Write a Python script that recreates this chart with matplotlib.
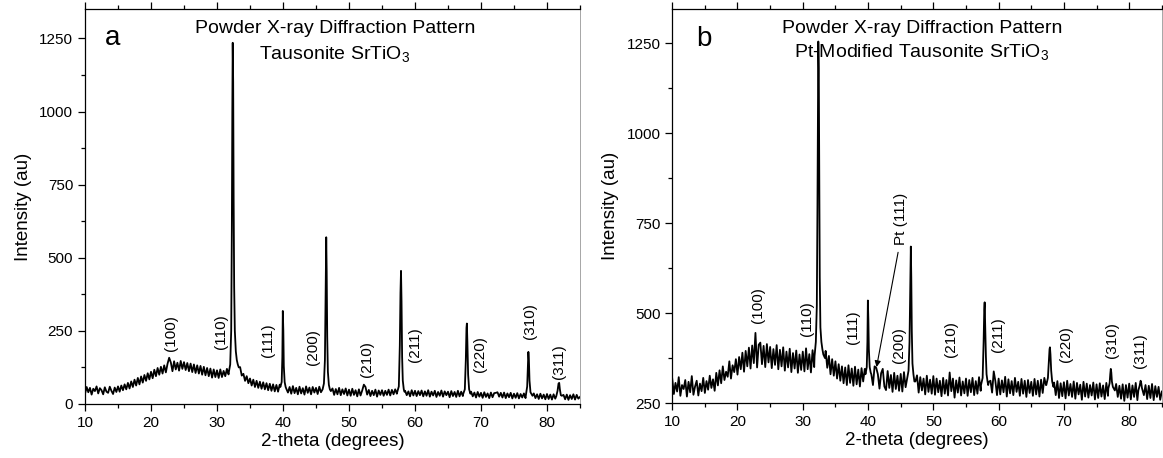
import numpy as np
import matplotlib
matplotlib.use('Agg')
import matplotlib.pyplot as plt
from matplotlib.ticker import MultipleLocator

plt.rcParams['font.family'] = ['Liberation Sans', 'DejaVu Sans']
plt.rcParams['mathtext.fontset'] = 'custom'
plt.rcParams['mathtext.rm'] = 'Liberation Sans'

# background counts read every 0.25 deg from 10 to 85 (panel a)
bg_a = [
    35, 58, 40, 55, 32, 52, 44, 60, 36, 54, 47, 33, 57, 42, 38, 59, 45, 34, 56, 41,
    60, 42, 63, 47, 67, 50, 72, 53, 77, 58, 83, 63, 89, 67, 94, 73, 99, 79, 105, 84,
    110, 88, 117, 95, 123, 100, 127, 104, 132, 108, 137, 158, 142, 112, 146, 118, 141, 114, 147, 120,
    143, 116, 140, 112, 138, 109, 135, 106, 132, 104, 130, 100, 127, 98, 123, 95, 121, 90, 118, 92,
    115, 89, 118, 92, 113, 95, 120, 101, 130, 400, 900, 300, 160, 130, 126, 97, 103, 79, 95, 71,
    87, 63, 83, 58, 79, 55, 76, 52, 74, 50, 71, 47, 69, 45, 67, 43, 65, 42, 66, 47,
    60, 55, 63, 39, 58, 35, 61, 37, 55, 33, 59, 36, 54, 32, 60, 38, 56, 33, 58, 39,
    55, 34, 59, 40, 55, 60, 70, 60, 52, 44, 53, 31, 51, 33, 55, 30, 50, 34, 53, 29,
    49, 28, 52, 31, 47, 26, 50, 29, 46, 66, 58, 32, 48, 27, 45, 30, 49, 25, 46, 31,
    47, 28, 45, 31, 49, 29, 48, 33, 50, 35, 49, 31, 47, 28, 45, 30, 43, 26, 47, 29,
    45, 27, 44, 30, 46, 26, 43, 28, 47, 25, 42, 29, 45, 24, 41, 28, 46, 25, 43, 30,
    42, 23, 44, 27, 41, 24, 45, 26, 42, 27, 43, 25, 40, 23, 42, 26, 39, 22, 41, 25,
    38, 21, 40, 24, 36, 20, 39, 23, 37, 38, 40, 25, 38, 22, 39, 20, 36, 23, 38, 19,
    35, 21, 37, 19, 34, 22, 36, 20, 35, 21, 34, 18, 36, 20, 33, 17, 35, 19, 32, 16,
    34, 17, 32, 15, 33, 18, 35, 20, 32, 28, 31, 16, 32, 14, 30, 17, 33, 15, 31, 18,
    24,
]

# peak profiles (2-theta, counts) for panel a
peaks_a = [
    [(31.8, 110), (32.0, 135), (32.15, 250), (32.25, 600), (32.32, 1000), (32.38, 1235),
     (32.45, 1100), (32.52, 700), (32.6, 400), (32.7, 250), (32.85, 180), (33.0, 150),
     (33.15, 135), (33.3, 125)],
    [(39.6, 58), (39.8, 75), (39.9, 160), (39.97, 318), (40.05, 250), (40.12, 130),
     (40.25, 75), (40.4, 58), (40.5, 52)],
    [(46.0, 50), (46.2, 70), (46.35, 150), (46.45, 350), (46.55, 570), (46.62, 450),
     (46.7, 230), (46.8, 110), (46.95, 65), (47.1, 50)],
    [(57.3, 40), (57.55, 60), (57.7, 200), (57.8, 380), (57.88, 455), (57.96, 350),
     (58.05, 160), (58.15, 80), (58.3, 50), (58.4, 42)],
    [(67.3, 34), (67.55, 50), (67.7, 150), (67.8, 260), (67.86, 275), (67.94, 210),
     (68.05, 100), (68.2, 50), (68.4, 35)],
    [(76.8, 30), (77.0, 60), (77.1, 130), (77.18, 178), (77.26, 150), (77.35, 80),
     (77.5, 40), (77.8, 28)],
    [(81.4, 26), (81.6, 45), (81.75, 70), (81.85, 72), (81.95, 50), (82.1, 30)],
]

# background counts for panel b
bg_b = [
    318, 275, 306, 282, 322, 270, 300, 289, 314, 268, 309, 280, 325, 273, 296, 312, 271, 304, 283, 320,
    278, 311, 287, 326, 292, 316, 284, 334, 299, 341, 305, 352, 314, 337, 323, 366, 318, 355, 336, 372,
    329, 378, 344, 390, 337, 395, 352, 404, 346, 410, 361, 445, 349, 412, 418, 358, 409, 350, 414, 363,
    406, 347, 400, 356, 411, 344, 398, 352, 405, 340, 393, 349, 401, 336, 389, 346, 396, 334, 385, 342,
    393, 338, 402, 344, 386, 335, 397, 350, 380, 400, 500, 420, 390, 372, 395, 348, 381, 330, 372, 326,
    366, 318, 358, 312, 352, 305, 349, 300, 355, 306, 346, 298, 351, 302, 343, 296, 347, 310, 345, 330,
    350, 340, 338, 300, 352, 348, 330, 290, 333, 345, 296, 286, 339, 292, 328, 281, 334, 289, 326, 284,
    331, 282, 336, 294, 325, 340, 360, 340, 330, 310, 327, 279, 322, 285, 318, 274, 326, 281, 315, 276,
    325, 273, 318, 280, 312, 269, 320, 276, 314, 271, 335, 283, 318, 265, 313, 279, 321, 271, 310, 277,
    318, 270, 314, 280, 320, 272, 311, 276, 322, 284, 316, 277, 312, 273, 309, 312, 279, 338, 311, 272,
    318, 274, 313, 280, 323, 268, 316, 277, 311, 272, 320, 281, 309, 270, 317, 276, 312, 267, 314, 278,
    309, 270, 317, 274, 312, 268, 315, 278, 320, 300, 305, 292, 314, 266, 307, 272, 311, 264, 305, 269,
    308, 263, 312, 271, 303, 267, 310, 262, 306, 274, 301, 259, 309, 268, 304, 265, 300, 271, 307, 260,
    302, 264, 305, 268, 299, 261, 306, 270, 301, 266, 297, 258, 303, 267, 298, 262, 302, 256, 300, 265,
    304, 260, 299, 267, 306, 258, 301, 269, 307, 272, 300, 261, 298, 264, 303, 258, 297, 267, 295, 259,
    282,
]

peaks_b = [
    [(31.8, 380), (32.0, 420), (32.15, 520), (32.25, 800), (32.32, 1050), (32.38, 1255),
     (32.45, 1180), (32.52, 900), (32.6, 600), (32.7, 460), (32.85, 420), (33.0, 400),
     (33.15, 385), (33.4, 375)],
    [(39.6, 330), (39.8, 350), (39.9, 420), (39.97, 535), (40.05, 480), (40.12, 400),
     (40.25, 350), (40.4, 335), (40.5, 330)],
    [(46.0, 320), (46.2, 340), (46.35, 420), (46.45, 560), (46.55, 685), (46.62, 600),
     (46.7, 450), (46.8, 360), (46.95, 330), (47.1, 310)],
    [(57.3, 300), (57.55, 320), (57.7, 420), (57.8, 510), (57.86, 530), (57.94, 470),
     (58.05, 380), (58.15, 330), (58.3, 310), (58.4, 300)],
    [(67.3, 300), (67.55, 320), (67.7, 370), (67.8, 400), (67.86, 405), (67.94, 385),
     (68.05, 340), (68.2, 310), (68.4, 295)],
    [(76.8, 290), (77.0, 305), (77.1, 330), (77.18, 345), (77.26, 335), (77.35, 310),
     (77.5, 295), (77.8, 285)],
    [(81.4, 285), (81.6, 298), (81.75, 312), (81.85, 305), (81.95, 292), (82.1, 282)],
]

hkl = ['(100)', '(110)', '(111)', '(200)', '(210)', '(211)', '(220)', '(310)', '(311)']
label_pos_a = [(23.1, 242), (30.6, 248), (37.7, 219), (44.6, 196), (52.8, 155),
               (60.0, 204), (69.8, 170), (77.4, 282), (81.8, 144)]
label_pos_b = [(23.1, 521), (30.7, 485), (37.7, 462), (44.8, 410), (52.7, 428),
               (59.9, 440), (70.3, 415), (77.3, 424), (81.7, 396)]


def build_pattern(bg, peaks):
    assert len(bg) == 301, len(bg)
    x_bg = 10 + 0.25 * np.arange(len(bg))
    keep = np.ones(len(bg), dtype=bool)
    xs, ys = [], []
    for group in peaks:
        px = [p[0] for p in group]
        keep &= ~((x_bg >= min(px)) & (x_bg <= max(px)))
        xs += px
        ys += [p[1] for p in group]
    x = np.concatenate([x_bg[keep], xs])
    y = np.concatenate([np.array(bg, float)[keep], ys])
    order = np.argsort(x)
    return x[order], y[order]


def style_axes(ax, ymin, ymax):
    ax.set_xlim(10, 85)
    ax.set_ylim(ymin, ymax)
    ax.xaxis.set_major_locator(MultipleLocator(10))
    ax.xaxis.set_minor_locator(MultipleLocator(5))
    ax.yaxis.set_major_locator(MultipleLocator(250))
    ax.yaxis.set_minor_locator(MultipleLocator(125))
    ax.tick_params(which='both', direction='out', labelsize=11, width=0.9)
    ax.tick_params(which='major', length=5)
    ax.tick_params(which='minor', length=3)
    ax.tick_params(axis='x', which='both', top=True, labeltop=False)
    ax.spines['right'].set_color('0.65')
    ax.spines['right'].set_linewidth(0.7)
    for s in ['left', 'bottom', 'top']:
        ax.spines[s].set_linewidth(0.9)
    ax.set_xlabel('2-theta (degrees)', fontsize=13.5, labelpad=2)
    ax.set_ylabel('Intensity (au)', fontsize=13.5, labelpad=5)


fig = plt.figure(figsize=(11.63, 4.58), dpi=100)
ax_a = fig.add_axes([0.0731, 0.118, 0.4256, 0.862])
ax_b = fig.add_axes([0.578, 0.120, 0.421, 0.860])

xa, ya = build_pattern(bg_a, peaks_a)
ax_a.plot(xa, ya, color='black', lw=1.3)
style_axes(ax_a, 0, 1350)
for lab, (x, y) in zip(hkl, label_pos_a):
    ax_a.text(x, y, lab, rotation=90, ha='center', va='center', fontsize=11)
ax_a.text(0.055, 0.927, 'a', transform=ax_a.transAxes, fontsize=20, ha='center', va='center')
ax_a.text(0.505, 0.952, 'Powder X-ray Diffraction Pattern', transform=ax_a.transAxes,
          fontsize=14, ha='center', va='center')
ax_a.text(0.505, 0.884, 'Tausonite SrTiO$_3$', transform=ax_a.transAxes,
          fontsize=14, ha='center', va='center')

xb, yb = build_pattern(bg_b, peaks_b)
ax_b.plot(xb, yb, color='black', lw=1.3)
style_axes(ax_b, 250, 1345)
for lab, (x, y) in zip(hkl, label_pos_b):
    ax_b.text(x, y, lab, rotation=90, ha='center', va='center', fontsize=11)
ax_b.text(45.1, 761, 'Pt (111)', rotation=90, ha='center', va='center', fontsize=11)
ax_b.annotate('', xy=(41.3, 350), xytext=(44.6, 669),
              arrowprops=dict(arrowstyle='-|>', lw=0.8, color='black', mutation_scale=9,
                              shrinkA=0, shrinkB=0))
ax_b.text(0.065, 0.924, 'b', transform=ax_b.transAxes, fontsize=20, ha='center', va='center')
ax_b.text(0.51, 0.952, 'Powder X-ray Diffraction Pattern', transform=ax_b.transAxes,
          fontsize=14, ha='center', va='center')
ax_b.text(0.51, 0.888, 'Pt-Modified Tausonite SrTiO$_3$', transform=ax_b.transAxes,
          fontsize=14, ha='center', va='center')

fig.savefig('out.png', dpi=100)
